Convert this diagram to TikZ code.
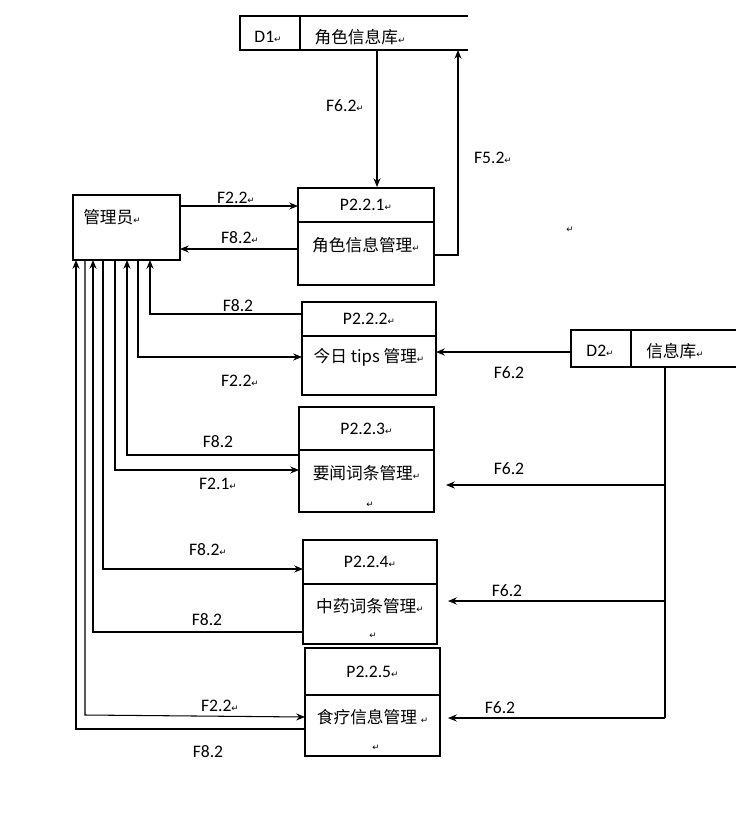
\documentclass[tikz,border=0pt]{standalone}
\usepackage{fontspec}
\setmainfont{Carlito}
\newfontfamily\cjk{Noto Sans CJK SC}
\newfontfamily\sym{DejaVu Sans}
\usetikzlibrary{arrows.meta}
\newcommand{\rt}{{\sym\fontsize{5}{6}\selectfont ↵}}
\tikzset{
	lbl/.style={font=\fontsize{10}{12}\selectfont},
	zh/.style={font=\cjk\fontsize{9.5}{12}\selectfont},
	flow/.style={-{Stealth[length=5pt,width=4pt]}},
	proc/.style={draw, inner sep=0pt}
}
\begin{document}
\begin{tikzpicture}[x=0.02cm,y=-0.02cm,line width=0.6pt]
		\useasboundingbox (0,0) rectangle (751,822);
		% data stores
		\draw (468,16)--(240,16)--(240,50)--(468,50);
		\draw (300,16)--(300,50);
		\node[lbl] (d1id) at (268,37) {D1\rt};
		\node[zh] (d1) at (360,37) {角色信息库\rt};
		\coordinate (d1in) at (458,50);
		\coordinate (d1out) at (377,50);
		\draw (736,330)--(571,330)--(571,367)--(736,367);
		\draw (631,330)--(631,367);
		\node[lbl] (d2id) at (600,351) {D2\rt};
		\node[zh] (d2) at (675,351) {信息库\rt};
		\coordinate (d2l) at (571,352);
		\coordinate (d2b) at (665,367);
		\coordinate (d2e) at (665,718);
		\draw (d2b)--(d2e);
		% admin
		\draw (73,195) rectangle (180,260);
		\node[zh] (adm) at (112,217) {管理员\rt};
		% processes
		\foreach \n/\xa/\ya/\xb/\yb/\yd/\t/\m in{
				1/298/188/434/285/222/P2.2.1/角色信息管理,
				2/302/302/436/395/336/P2.2.2/今日 tips 管理,
				3/299/407/434/512/450/P2.2.3/要闻词条管理,
				4/303/540/437/644/584/P2.2.4/中药词条管理,
				5/305/648/440/756/695/P2.2.5/食疗信息管理
		}{
		\draw (\xa,\ya) rectangle (\xb,\yb);
		\draw (\xa,\yd)--(\xb,\yd);
		\node[lbl] (t\n) at ({(\xa+\xb)/2},{(\ya+\yd)/2}) {\t\rt};
		\node[zh] (p\n) at ({(\xa+\xb)/2},{(\yd+\yb)/2-8}) {\m\rt};
		}
		\node at (370,505) {\rt};
		\node at (373,636) {\rt};
		\node at (376,748) {\rt};
		\node at (570,230) {\rt};
		% flows
		\draw[flow] (d1out)--(377,187);
		\node[lbl] at (345,106) {F6.2\rt};
		\draw[flow] (434,255)--(458,255)--(d1in);
		\node[lbl] at (493,158) {F5.2\rt};
		\draw[flow] (180,206)--(298,206);
		\node[lbl] at (236,198) {F2.2\rt};
		\draw[flow] (298,249)--(180,249);
		\node[lbl] at (240,238) {F8.2\rt};
		\draw[flow] (302,314)--(150,314)--(150,260);
		\node[lbl] at (238,306) {F8.2};
		\draw[flow] (138,260)--(138,357)--(302,357);
		\node[lbl] at (240,381) {F2.2\rt};
		\draw[flow] (d2l)--(436,352);
		\node[lbl] at (509,373) {F6.2};
		\draw[flow] (299,455)--(127,455)--(127,260);
		\node[lbl] at (218,442) {F8.2};
		\draw[flow] (115,260)--(115,470)--(299,470);
		\node[lbl] at (218,484) {F2.1\rt};
		\draw[flow] (665,485)--(446,485);
		\node[lbl] at (509,469) {F6.2};
		\draw[flow] (103,260)--(103,569)--(303,569);
		\node[lbl] at (208,550) {F8.2\rt};
		\draw[flow] (303,632)--(93,632)--(93,260);
		\node[lbl] at (207,620) {F8.2};
		\draw[flow] (665,601)--(448,601);
		\node[lbl] at (507,591) {F6.2};
		\draw[flow] (85,260)--(85,715)--(305,717);
		\node[lbl] at (220,706) {F2.2\rt};
		\draw[flow] (305,729)--(76,729)--(76,260);
		\node[lbl] at (208,752) {F8.2};
		\draw[flow] (d2e)--(448,718);
		\node[lbl] at (500,708) {F6.2};
\end{tikzpicture}
\end{document}
